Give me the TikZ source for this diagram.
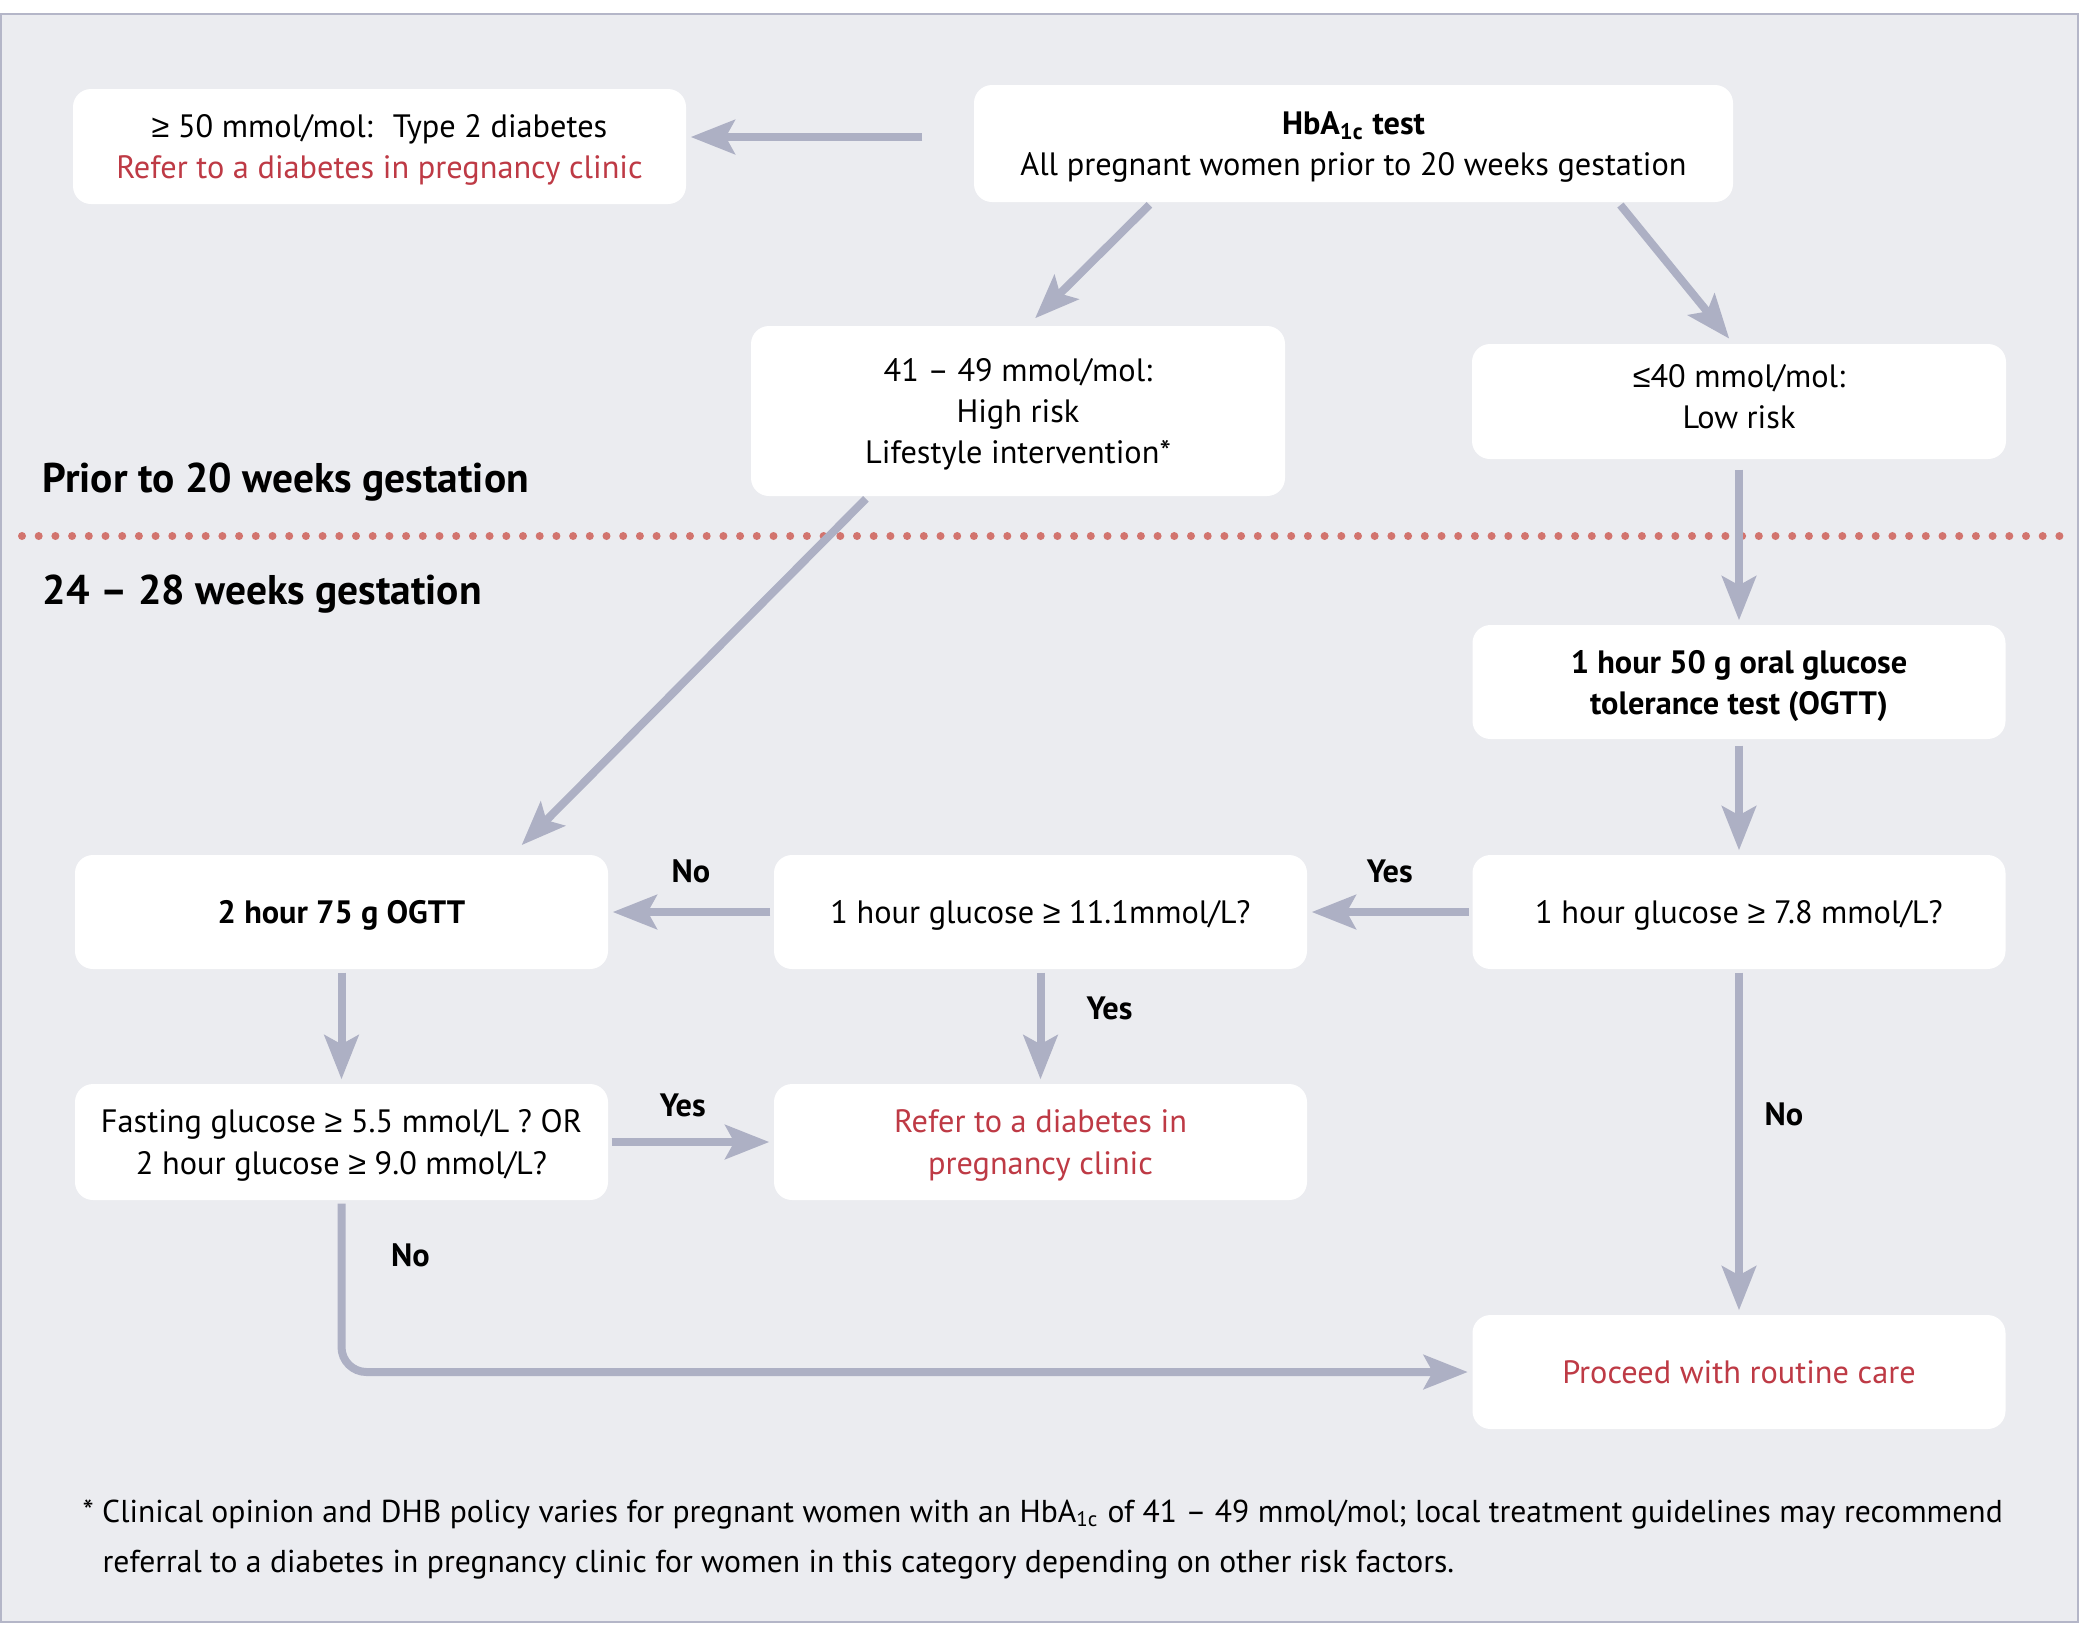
\documentclass[tikz,border=0pt]{standalone}
\usepackage{fontspec}
\setmainfont{PT Sans}
\newfontfamily\symfont{Liberation Sans}
\usetikzlibrary{arrows.meta,positioning,calc}

\definecolor{bgcol}{HTML}{EBECF0}
\definecolor{framecol}{HTML}{B4B6C8}
\definecolor{arrowcol}{HTML}{ADB0C4}
\definecolor{refercol}{HTML}{BE3A45}
\definecolor{dotcol}{HTML}{D2746E}

\newcommand{\bodyfont}{\fontsize{9.2pt}{11.7pt}\selectfont}
\newcommand{\sectfont}{\fontsize{11.8pt}{14pt}\selectfont\bfseries}
\newcommand{\notefont}{\fontsize{9pt}{12pt}\selectfont}
\newcommand{\gesym}{{\symfont ≥}}
\newcommand{\lesym}{{\symfont ≤}}

\tikzset{
  stepbox/.style={fill=white, rounded corners=1.8mm, align=center, inner sep=0pt,
    minimum width=5.33cm, minimum height=1.14cm, font=\bodyfont, text depth=0pt},
  arr/.style={draw=arrowcol, line width=0.8mm,
    -{Stealth[length=4.4mm, width=3.4mm, inset=0.9mm]},
    shorten >=0.4mm, shorten <=0.3mm},
  lbl/.style={font=\bodyfont\bfseries, inner sep=0pt},
}

\begin{document}
\begin{tikzpicture}
    % --- НАСТРОЙКИ ---
    \def\ColA{3.415}   % левый столбец
    \def\ColB{10.405}  % средний столбец
    \def\ColC{17.39}   % правый столбец
    \def\RowA{-9.12}
    \def\RowB{-11.42}
    \def\RowC{-13.72}

    % --- ФОН И РАМКА ---
    \useasboundingbox (0,0) rectangle (20.81,-16.27);
    \draw[framecol, line width=0.25mm, fill=bgcol] (0.01,-0.14) rectangle (20.78,-16.22);

    % Граница между периодами (пунктир из точек)
    \draw[dotcol, line width=0.8mm, line cap=round, dash pattern=on 0pt off 1.67mm]
        (0.22,-5.36) -- (20.60,-5.36);

    % Подписи периодов
    \node[anchor=base west, font=\sectfont, inner sep=0pt] (prior) at (0.42,-4.92) {Prior to 20 weeks gestation};
    \node[anchor=base west, font=\sectfont, inner sep=0pt] (later) at (0.42,-6.04) {24 – 28 weeks gestation};

    % --- ДО 20 НЕДЕЛЬ ---
    \node[stepbox, minimum width=7.59cm, minimum height=1.17cm] (hba) at (13.535,-1.435)
        {{\bfseries HbA\textsubscript{1c} test}\\All pregnant women prior to 20 weeks gestation};
    \node[stepbox, minimum width=6.13cm, minimum height=1.15cm] (t2) at (3.795,-1.465)
        {\gesym{} 50 mmol/mol:~ Type 2 diabetes\\\textcolor{refercol}{Refer to a diabetes in pregnancy clinic}};
    \node[stepbox, minimum width=5.34cm, minimum height=1.70cm] (high) at (10.18,-4.11)
        {41 – 49 mmol/mol:\\High risk\\Lifestyle intervention*};
    \node[stepbox, minimum width=5.34cm, minimum height=1.15cm, text depth=1mm] (low) at (\ColC,-4.015)
        {\lesym40 mmol/mol:\\Low risk};

    % --- 24-28 НЕДЕЛЬ ---
    \node[stepbox, font=\bodyfont\bfseries] (ogtt50) at (\ColC,-6.82)
        {1 hour 50 g oral glucose\\tolerance test (OGTT)};
    \node[stepbox] (g78) at (\ColC,\RowA) {1 hour glucose \gesym{} 7.8 mmol/L?};
    \node[stepbox] (g111) at (\ColB,\RowA) {1 hour glucose \gesym{} 11.1mmol/L?};
    \node[stepbox, font=\bodyfont\bfseries] (ogtt75) at (\ColA,\RowA) {2 hour 75 g OGTT};
    \node[stepbox, minimum height=1.16cm] (fast) at (\ColA,\RowB)
        {Fasting glucose \gesym{} 5.5 mmol/L ? OR\\2 hour glucose \gesym{} 9.0 mmol/L?};
    \node[stepbox, minimum height=1.16cm, text=refercol] (refer) at (\ColB,\RowB)
        {Refer to a diabetes in\\pregnancy clinic};
    \node[stepbox, text=refercol] (routine) at (\ColC,\RowC) {Proceed with routine care};

    % --- СТРЕЛКИ ---
    \coordinate (a1) at ([xshift=-4.8mm, yshift=0.65mm]hba.west);
    \draw[arr] (a1) -- (a1 -| t2.east);
    \draw[arr, shorten >=1mm] ([xshift=-20.2mm]hba.south) -- ([xshift=1mm]high.north);
    \draw[arr, shorten >=0.6mm] ([xshift=26.5mm]hba.south) -- ([xshift=-0.6mm]low.north);
    \draw[arr, shorten <=1mm] (low.south) -- (ogtt50.north);
    \draw[arr, shorten >=1.3mm] ([xshift=-15mm]high.south) -- ([xshift=17.1mm]ogtt75.north);
    \draw[arr, shorten <=0.6mm] (ogtt50.south) -- (g78.north);

    % Решения
    \draw[arr] (g78.west) -- node[lbl, yshift=4.1mm] {Yes} (g111.east);
    \draw[arr] (g111.west) -- node[lbl, yshift=4.1mm] {No} (ogtt75.east);
    \draw[arr] (g111.south) -- node[lbl, pos=0.34, xshift=6.9mm] {Yes} (refer.north);
    \draw[arr] (ogtt75.south) -- (fast.north);
    \draw[arr] (fast.east) -- node[lbl, pos=0.45, yshift=3.7mm] {Yes} (refer.west);
    \draw[arr, rounded corners=2.5mm] (fast.south) -- node[lbl, pos=0.32, xshift=6.9mm] {No}
        (fast.south |- routine.west) -- (routine.west);
    \draw[arr] (g78.south) -- node[lbl, pos=0.42, xshift=4.5mm] {No} (routine.north);

    % --- СНОСКА ---
    \node[anchor=base west, font=\notefont, inner sep=0pt] (note1) at (0.82,-15.22)
        {* Clinical opinion and DHB policy varies for pregnant women with an HbA\textsubscript{1c} of 41 – 49 mmol/mol; local treatment guidelines may recommend};
    \node[anchor=base west, font=\notefont, inner sep=0pt] (note2) at (1.02,-15.72)
        {referral to a diabetes in pregnancy clinic for women in this category depending on other risk factors.};
\end{tikzpicture}
\end{document}
